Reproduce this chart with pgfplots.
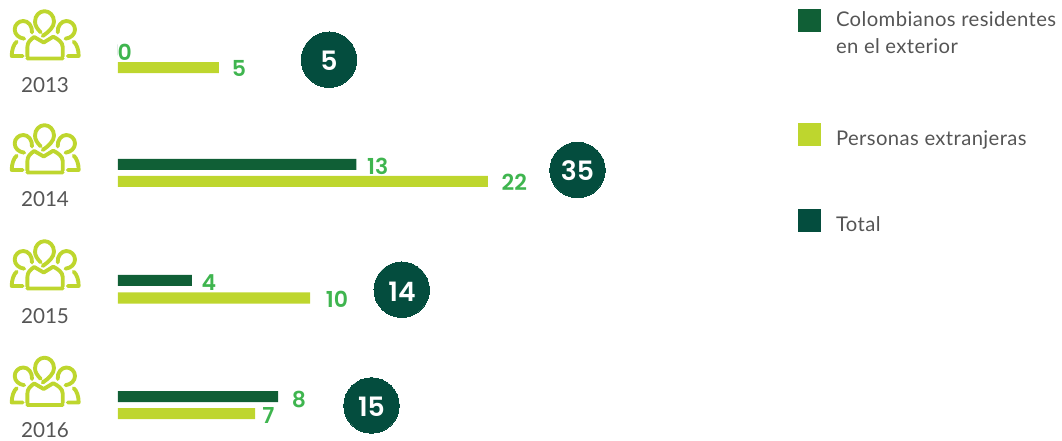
\documentclass[border=0pt]{standalone}
\usepackage{fontspec}
\usepackage{pgfplots}
\pgfplotsset{compat=1.18}
\setmainfont{Lato}
\newfontfamily\legf{Lato}[LetterSpace=2]
\newfontfamily\numf{Poppins SemiBold}
\definecolor{cdark}{HTML}{105F36}
\definecolor{clight}{HTML}{BED62E}
\definecolor{ctotal}{HTML}{044D3E}
\definecolor{cnum}{HTML}{3FB54F}
\definecolor{ctext}{HTML}{555555}
\def\PP#1#2{\pgfpoint{#1*0.75pt}{#2*0.75pt}}
\pgfdeclareplotmark{people}{%
  \pgfsetlinewidth{2.9pt}\pgfsetroundcap\pgfsetroundjoin
  % central head
  \pgfpathmoveto{\PP{-4}{1.7}}
  \pgfpathcurveto{\PP{-7.5}{5}}{\PP{-9.7}{8.5}}{\PP{-9.7}{12.3}}
  \pgfpathcurveto{\PP{-9.7}{18.5}}{\PP{-5.3}{22.8}}{\PP{-0.2}{22.8}}
  \pgfpathcurveto{\PP{5}{22.8}}{\PP{9.3}{18.5}}{\PP{9.3}{12.3}}
  \pgfpathcurveto{\PP{9.3}{7}}{\PP{4}{2}}{\PP{-2}{-2}}
  % left head
  \pgfpathmoveto{\PP{-12.7}{1.5}}
  \pgfpathcurveto{\PP{-12.2}{8}}{\PP{-16.5}{13}}{\PP{-21.3}{13}}
  \pgfpathcurveto{\PP{-26.1}{13}}{\PP{-30}{9.3}}{\PP{-30}{4.5}}
  \pgfpathcurveto{\PP{-30}{-0.3}}{\PP{-26}{-4}}{\PP{-20.5}{-4.7}}
  % right head
  \pgfpathmoveto{\PP{13}{1.5}}
  \pgfpathcurveto{\PP{12.5}{8}}{\PP{16.8}{13}}{\PP{21.6}{13}}
  \pgfpathcurveto{\PP{26.4}{13}}{\PP{30.3}{9.3}}{\PP{30.3}{4.5}}
  \pgfpathcurveto{\PP{30.3}{-0.3}}{\PP{26.3}{-4}}{\PP{20.8}{-4.7}}
  % body
  \pgfpathmoveto{\PP{-17.3}{-22.5}}
  \pgfpathlineto{\PP{-17.3}{-13}}
  \pgfpathcurveto{\PP{-17.3}{-8}}{\PP{-14}{-5.5}}{\PP{-10.5}{-3}}
  \pgfpathlineto{\PP{-1}{-8.5}}
  \pgfpathlineto{\PP{8.5}{-2.7}}
  \pgfpathcurveto{\PP{13}{-5}}{\PP{18}{-8}}{\PP{18}{-13}}
  \pgfpathlineto{\PP{18}{-22.5}}
  % base
  \pgfpathmoveto{\PP{-17.5}{-24.5}}
  \pgfpathlineto{\PP{18}{-24.5}}
  % left shoulder
  \pgfpathmoveto{\PP{-22}{-22}}
  \pgfpathlineto{\PP{-33}{-22}}
  \pgfpathcurveto{\PP{-33}{-16}}{\PP{-31}{-10}}{\PP{-28}{-7.7}}
  % right shoulder
  \pgfpathmoveto{\PP{23}{-22}}
  \pgfpathlineto{\PP{34}{-22}}
  \pgfpathcurveto{\PP{34}{-16}}{\PP{32}{-10}}{\PP{29}{-7.7}}
  \pgfusepathqstroke
}
\pgfplotsset{
  base/.style={scale only axis,width=796.5pt,height=330.75pt,hide axis,clip=false,
    y dir=reverse,ymin=0,ymax=441},
  txt/.style={only marks,mark=none,point meta=explicit symbolic,nodes near coords,
    every node near coord/.append style={anchor=#1,inner sep=0pt,outer sep=0pt}},
}
\begin{document}
\begin{tikzpicture}
% bars: x = bar length as drawn, in persons at the chart's nominal scale
\begin{axis}[base,xmin=-6.378,xmax=51.03,xbar,bar width=8.25pt,bar shift=0pt]
\path (rel axis cs:0,0) rectangle (rel axis cs:1,1);
\addplot[fill=cdark,draw=none] coordinates {(0,50) (12.89,164.5) (4,280.5) (8.65,396.5)};
\addplot[fill=clight,draw=none] coordinates {(5.46,67.7) (20,181.5) (10.38,298) (7.41,413.5)};
\end{axis}
% overlay in picture units
\begin{axis}[base,xmin=0,xmax=1062]
\addplot[only marks,mark=people,mark options={draw=clight,fill=none}] coordinates {(44.7,34) (44.7,148) (44.7,264) (44.7,380.5)};
\addplot[only marks,mark=*,mark size=20.8pt,mark options={draw=ctotal,fill=ctotal,line width=0pt}] coordinates {(329,59.7) (577.5,170) (401.7,289.7) (371.5,405.5)};
\addplot[only marks,mark=square*,mark size=8.6pt,mark options={draw=cdark,fill=cdark,line width=0pt}] coordinates {(809.5,20.5)};
\addplot[only marks,mark=square*,mark size=8.6pt,mark options={draw=clight,fill=clight,line width=0pt}] coordinates {(809.5,134.5)};
\addplot[only marks,mark=square*,mark size=8.6pt,mark options={draw=ctotal,fill=ctotal,line width=0pt}] coordinates {(809.5,220.5)};
% totals
\addplot[txt=base,nodes near coords style={font=\numf\fontsize{20}{20}\selectfont,text=white}]
 table[meta=l,col sep=comma] {
x,y,l
329,70.3,5
577.5,180.3,35
402,301,14
371.5,416.7,15
};
% values
\addplot[txt=base,nodes near coords style={font=\numf\fontsize{16.5}{16.5}\selectfont,text=cnum}]
 table[meta=l,col sep=comma] {
x,y,l
124.7,61,0
239,77,5
377.7,174.3,13
514.3,191,22
209,291,4
337,307,10
299,407,8
268.3,423.3,7
};
% years
\addplot[txt=base,nodes near coords style={font=\fontsize{15.5}{15.5}\selectfont,text=ctext}]
 table[meta=l,col sep=comma] {
x,y,l
45,93,2013
45,207,2014
45,323,2015
45,437.8,2016
};
% legend text
\addplot[txt=base west,nodes near coords style={font=\legf\fontsize{15.2}{15.2}\selectfont,text=ctext}]
 table[meta=l,col sep=comma] {
x,y,l
836,26.3,Colombianos residentes
836,53.3,en el exterior
836,146,Personas extranjeras
836,232,Total
};
\end{axis}
\end{tikzpicture}
\end{document}
